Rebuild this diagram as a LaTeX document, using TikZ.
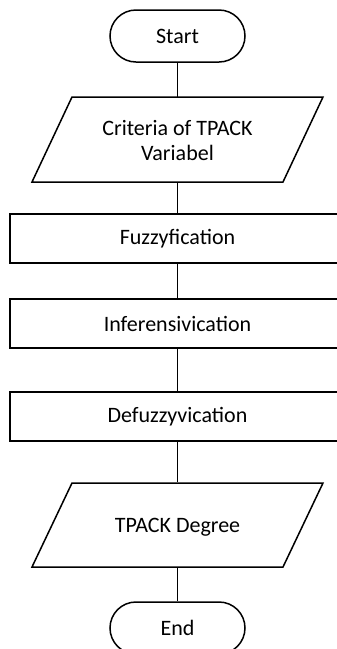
\documentclass[tikz,border=0pt]{standalone}
\usepackage{fontspec}
\setmainfont{Carlito}
\begin{document}
\begin{tikzpicture}[x=1pt,y=1pt,
  shapeline/.style={draw=black,line width=1.5pt},
  conn/.style={draw=black,line width=0.9pt},
  lbl/.style={font=\fontsize{22}{25}\selectfont,align=center,inner sep=0pt},
  term/.style={shapeline,rounded corners=26pt,minimum width=135pt,minimum height=52pt,inner sep=0pt,font=\fontsize{22}{25}\selectfont},
  procbox/.style={shapeline,minimum width=335pt,minimum height=49pt,inner sep=0pt,font=\fontsize{22}{25}\selectfont},
  iobox/.style={minimum width=251pt,minimum height=85pt,inner sep=0pt}
]
\useasboundingbox (0,0) rectangle (337,-649);
\clip (0,0) rectangle (337,-649);
\fill[white] (0,0) rectangle (337,-649);
% terminals
\node[term] (start) at (177.5,-36) {Start};
\node[term] (end) at (177.5,-628) {End};
% input/output parallelograms
\node[iobox] (in1) at (177.5,-139.5) {};
\draw[shapeline] (32,-182) -- (72,-97) -- (323,-97) -- (283,-182) -- cycle;
\node[lbl] (in1t) at (177.5,-140.5) {Criteria of TPACK\\Variabel};
\node[iobox] (out1) at (177.5,-525) {};
\draw[shapeline] (32,-567) -- (72,-483) -- (323,-483) -- (283,-567) -- cycle;
\node[lbl] (out1t) at (177.5,-527) {TPACK Degree};
% process boxes
\node[procbox] (fuz) at (177.5,-238.5) {Fuzzyfication};
\node[procbox] (inf) at (177.5,-323.5) {Inferensivication};
\node[procbox] (def) at (177.5,-416.5) {Defuzzyvication};
% connectors
\draw[conn] (start.south) -- (in1.north);
\draw[conn] (in1.south) -- (fuz.north);
\draw[conn] (fuz.south) -- (inf.north);
\draw[conn] (inf.south) -- (def.north);
\draw[conn] (def.south) -- (out1.north);
\draw[conn] (out1.south) -- (end.north);
\end{tikzpicture}
\end{document}
